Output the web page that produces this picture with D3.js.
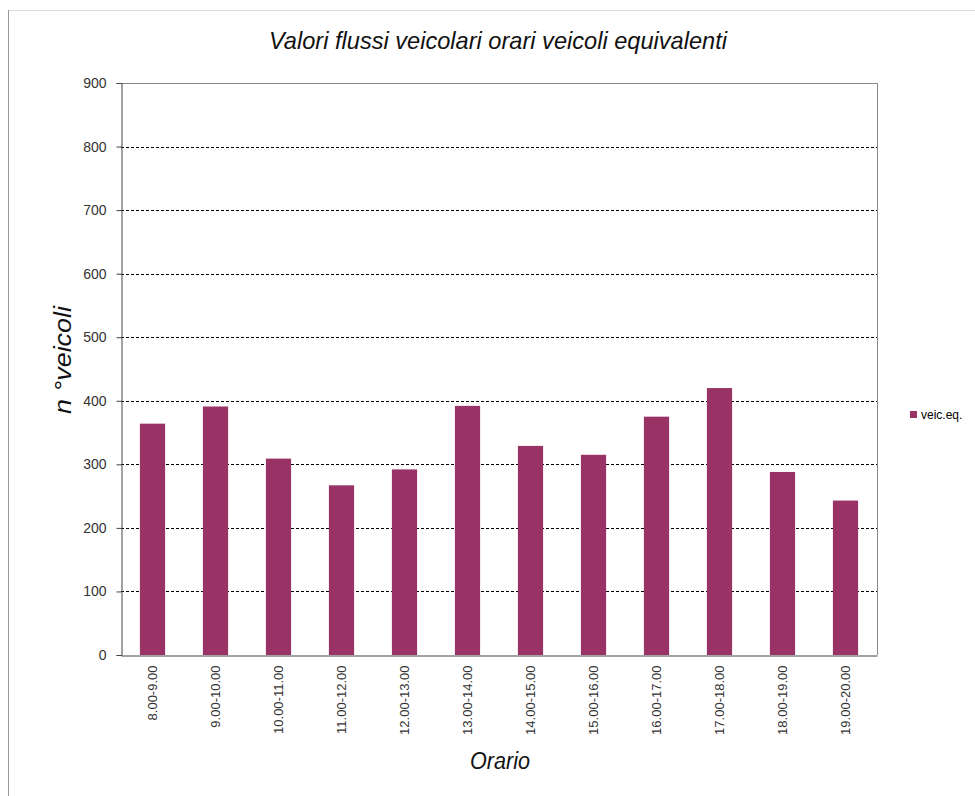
<!DOCTYPE html>
<html>
<head>
<meta charset="utf-8">
<script src="https://cdn.jsdelivr.net/npm/d3@7"></script>
<style>
  body { margin: 0; background: #fff; }
  svg text { font-family: "Liberation Sans", Arial, sans-serif; }
</style>
</head>
<body>
<svg id="chart" width="975" height="796"></svg>
<script>
// dati
var fasce = ["8.00-9.00","9.00-10.00","10.00-11.00","11.00-12.00","12.00-13.00","13.00-14.00",
             "14.00-15.00","15.00-16.00","16.00-17.00","17.00-18.00","18.00-19.00","19.00-20.00"];
var veicEq = [364, 391, 309, 267, 292, 392, 329, 315, 375, 420, 288, 243];
var yTicks = [0, 100, 200, 300, 400, 500, 600, 700, 800, 900];
var serie = "veic.eq.";

var colore = "#993366";

var svg = d3.select("#chart");

// cornice esterna
svg.append("line").attr("x1", 8.5).attr("x2", 975).attr("y1", 10.5).attr("y2", 10.5)
    .style("stroke", "#dcdcdc");
svg.append("line").attr("x1", 8.5).attr("x2", 8.5).attr("y1", 10).attr("y2", 796)
    .style("stroke", "#999");

var margin = {left: 121, top: 83, right: 877, bottom: 655};

var x = d3.scaleBand()
    .domain(fasce)
    .range([margin.left, margin.right])
    .paddingInner(0.6)
    .paddingOuter(0.3);

var y = d3.scaleLinear()
    .domain([0, 900])
    .range([margin.bottom, margin.top]);

// griglia
svg.append("g")
    .selectAll("line")
    .data(yTicks.filter(function(d){ return d > 0 && d < 900; }))
    .join("line")
    .attr("x1", margin.left).attr("x2", margin.right)
    .attr("y1", function(d){ return Math.round(y(d)) + 0.5; })
    .attr("y2", function(d){ return Math.round(y(d)) + 0.5; })
    .style("stroke", "#000")
    .style("stroke-dasharray", "3,2");

// bordo area del grafico (alto e destra)
svg.append("path")
    .attr("d", "M" + margin.left + "," + (Math.round(y(900)) + 0.5) +
               "H" + (margin.right + 0.5) + "V" + margin.bottom)
    .style("fill", "none")
    .style("stroke", "#888");

// barre
svg.append("g")
    .selectAll("rect")
    .data(veicEq)
    .join("rect")
    .attr("x", function(d, i){ return x(fasce[i]); })
    .attr("width", x.bandwidth())
    .attr("y", function(d){ return y(d); })
    .attr("height", function(d){ return y(0) - y(d); })
    .style("fill", colore);

// asse y
var gy = svg.append("g")
    .attr("transform", "translate(" + (margin.left + 0.5) + ",0)")
    .call(d3.axisLeft(y).tickValues(yTicks).tickSize(5).tickPadding(10));
gy.select(".domain").style("stroke", "#444");
gy.selectAll(".tick line").style("stroke", "#444");
gy.selectAll(".tick text").style("font-size", "14px").style("fill", "#333");

// asse x
var gx = svg.append("g")
    .attr("transform", "translate(0," + (margin.bottom + 0.5) + ")")
    .call(d3.axisBottom(x).tickSize(0).tickSizeOuter(0));
gx.select(".domain").style("stroke", "#444");
gx.selectAll(".tick text")
    .style("font-size", "13px")
    .style("fill", "#333")
    .attr("text-anchor", "end")
    .attr("transform", "rotate(-90)")
    .attr("x", -10)
    .attr("y", 0)
    .attr("dy", "0.35em");

// titolo
svg.append("text")
    .attr("x", 498).attr("y", 49)
    .attr("text-anchor", "middle")
    .style("font-size", "24px")
    .style("font-style", "italic")
    .style("fill", "#111")
    .attr("textLength", 458)
    .attr("lengthAdjust", "spacingAndGlyphs")
    .text("Valori flussi veicolari orari veicoli equivalenti");

// titoli assi
svg.append("text")
    .attr("x", 500).attr("y", 769)
    .attr("text-anchor", "middle")
    .style("font-size", "23px")
    .style("font-style", "italic")
    .style("fill", "#111")
    .attr("textLength", 60)
    .attr("lengthAdjust", "spacingAndGlyphs")
    .text("Orario");

svg.append("text")
    .attr("transform", "translate(71,360) rotate(-90)")
    .attr("text-anchor", "middle")
    .style("font-size", "23px")
    .style("font-style", "italic")
    .style("fill", "#111")
    .attr("textLength", 108)
    .attr("lengthAdjust", "spacingAndGlyphs")
    .text("n °veicoli");

// legenda
var leg = svg.append("g").attr("transform", "translate(910,411)");
leg.append("rect").attr("width", 7).attr("height", 7).style("fill", colore);
leg.append("text").attr("x", 11).attr("y", 8)
    .style("font-size", "12px")
    .style("fill", "#000")
    .text(serie);
</script>
</body>
</html>
